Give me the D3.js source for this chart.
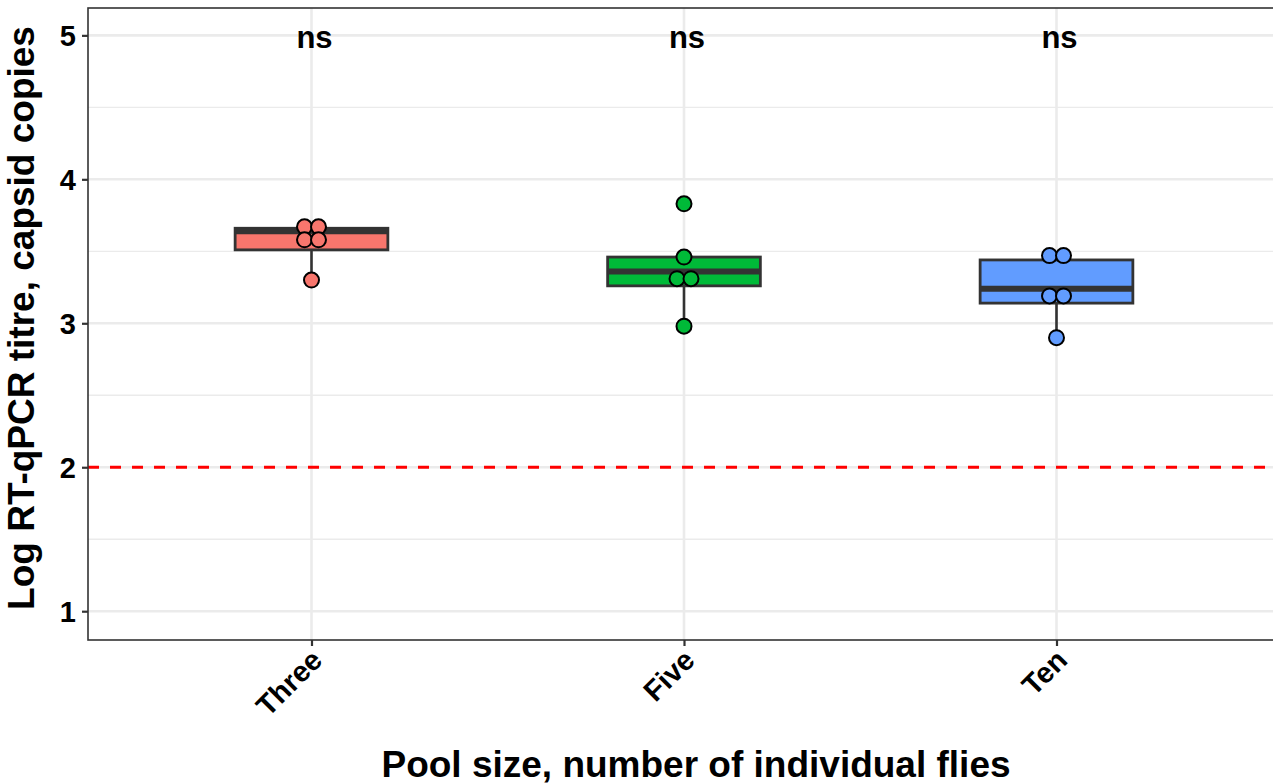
<!DOCTYPE html>
<html>
<head>
<meta charset="utf-8">
<script src="https://cdn.jsdelivr.net/npm/d3@7"></script>
<style>
  body { margin: 0; background: #fff; }
  text { font-family: "Liberation Sans", Arial, sans-serif; font-weight: bold; fill: #000; }
</style>
</head>
<body>
<div id="chart"></div>
<script>
// values
const groups = ['Three', 'Five', 'Ten'];
const fills = ['#F8766D', '#00BA38', '#619CFF'];
const q1 = [3.51, 3.26, 3.14];
const median = [3.64, 3.36, 3.24];
const q3 = [3.66, 3.46, 3.44];
const whiskerLo = [3.30, 2.98, 2.90];
const whiskerHi = [3.67, 3.46, 3.47];
const pointsThree = [3.67, 3.67, 3.58, 3.58, 3.30];
const pointsFive = [3.83, 3.46, 3.31, 3.31, 2.98];
const pointsTen = [3.47, 3.47, 3.19, 3.19, 2.90];
const allPoints = [pointsThree, pointsFive, pointsTen];
const sigLabels = ['ns', 'ns', 'ns'];
const yTicks = [1, 2, 3, 4, 5];
const yMinor = [1.5, 2.5, 3.5, 4.5];
const limitOfDetection = 2;

const w = 1273;
const h = 784;
const panel = { left: 88, top: 8, right: 1280, bottom: 640 };

const svg = d3.select('#chart')
    .append('svg')
    .attr('width', w)
    .attr('height', h);

const xScale = d3.scalePoint()
    .domain(groups)
    .range([panel.left, panel.right])
    .padding(0.6);

const yScale = d3.scaleLinear()
    .domain([0.8, 5.19])
    .range([panel.bottom, panel.top]);

const boxW = xScale.step() * 0.41;

// grid
const grid = svg.append('g');
grid.selectAll('.minor')
    .data(yMinor)
    .enter()
    .append('line')
    .attr('x1', panel.left).attr('x2', panel.right)
    .attr('y1', d => yScale(d)).attr('y2', d => yScale(d))
    .attr('stroke', '#ebebeb').attr('stroke-width', 1.3);
grid.selectAll('.major')
    .data(yTicks)
    .enter()
    .append('line')
    .attr('x1', panel.left).attr('x2', panel.right)
    .attr('y1', d => yScale(d)).attr('y2', d => yScale(d))
    .attr('stroke', '#ebebeb').attr('stroke-width', 2.6);
grid.selectAll('.vmajor')
    .data(groups)
    .enter()
    .append('line')
    .attr('x1', d => xScale(d)).attr('x2', d => xScale(d))
    .attr('y1', panel.top).attr('y2', panel.bottom)
    .attr('stroke', '#ebebeb').attr('stroke-width', 2.6);

// limit of detection
svg.append('line')
    .attr('x1', panel.left).attr('x2', panel.right)
    .attr('y1', yScale(limitOfDetection)).attr('y2', yScale(limitOfDetection))
    .attr('stroke', '#ff0000')
    .attr('stroke-width', 3)
    .attr('stroke-dasharray', '11,11');

// boxes
const boxes = svg.selectAll('.box')
    .data(groups)
    .enter()
    .append('g');

boxes.append('line')
    .attr('x1', d => xScale(d)).attr('x2', d => xScale(d))
    .attr('y1', (d, i) => yScale(whiskerLo[i]))
    .attr('y2', (d, i) => yScale(whiskerHi[i]))
    .attr('stroke', '#333').attr('stroke-width', 2.6);

boxes.append('rect')
    .attr('x', d => xScale(d) - boxW / 2)
    .attr('width', boxW)
    .attr('y', (d, i) => yScale(q3[i]))
    .attr('height', (d, i) => yScale(q1[i]) - yScale(q3[i]))
    .attr('fill', (d, i) => fills[i])
    .attr('stroke', '#333').attr('stroke-width', 2.8);

boxes.append('line')
    .attr('x1', d => xScale(d) - boxW / 2).attr('x2', d => xScale(d) + boxW / 2)
    .attr('y1', (d, i) => yScale(median[i]))
    .attr('y2', (d, i) => yScale(median[i]))
    .attr('stroke', '#333').attr('stroke-width', 6);

// points, tied values set side by side
const pointGap = 14;
groups.forEach((g, gi) => {
    const vals = allPoints[gi];
    const pts = vals.map((v, i) => {
        const same = vals.filter(u => u === v).length;
        const k = vals.slice(0, i).filter(u => u === v).length;
        return { v: v, off: (k - (same - 1) / 2) * pointGap };
    });
    svg.selectAll('.pt' + gi)
        .data(pts)
        .enter()
        .append('circle')
        .attr('cx', d => xScale(g) + d.off)
        .attr('cy', d => yScale(d.v))
        .attr('r', 7.5)
        .attr('fill', fills[gi])
        .attr('stroke', '#000')
        .attr('stroke-width', 2);
});

// significance labels
svg.selectAll('.sig')
    .data(sigLabels)
    .enter()
    .append('text')
    .attr('x', (d, i) => xScale(groups[i]) + 3)
    .attr('y', 48)
    .attr('text-anchor', 'middle')
    .style('font-size', '31px')
    .text(d => d);

// panel border
svg.append('rect')
    .attr('x', panel.left).attr('y', panel.top)
    .attr('width', panel.right - panel.left)
    .attr('height', panel.bottom - panel.top)
    .attr('fill', 'none')
    .attr('stroke', '#333').attr('stroke-width', 1.6);

// axes
const yAxis = d3.axisLeft(yScale).tickValues(yTicks).tickSize(6).tickPadding(6).tickFormat(d3.format('d'));
const yG = svg.append('g')
    .attr('transform', `translate(${panel.left}, 0)`)
    .call(yAxis);
yG.select('.domain').remove();
yG.selectAll('.tick line').attr('stroke', '#333').attr('stroke-width', 2.2);
yG.selectAll('.tick text').style('font-size', '29px').attr('fill', '#000').attr('dy', '0.35em');

const xAxis = d3.axisBottom(xScale).tickSize(6).tickPadding(6);
const xG = svg.append('g')
    .attr('transform', `translate(0, ${panel.bottom})`)
    .call(xAxis);
xG.select('.domain').remove();
xG.selectAll('.tick line').attr('stroke', '#333').attr('stroke-width', 2.2);
xG.selectAll('.tick text')
    .style('font-size', '29px')
    .attr('fill', '#000')
    .attr('text-anchor', 'end')
    .attr('dy', null)
    .attr('x', 0)
    .attr('y', 0)
    .attr('transform', 'translate(12, 22) rotate(-45)');

// titles
svg.append('text')
    .attr('x', 696)
    .attr('y', 777)
    .attr('text-anchor', 'middle')
    .style('font-size', '37px')
    .text('Pool size, number of individual flies');

svg.append('text')
    .attr('transform', 'translate(34, 318) rotate(-90)')
    .attr('text-anchor', 'middle')
    .style('font-size', '37px')
    .text('Log RT-qPCR titre, capsid copies');
</script>
</body>
</html>
